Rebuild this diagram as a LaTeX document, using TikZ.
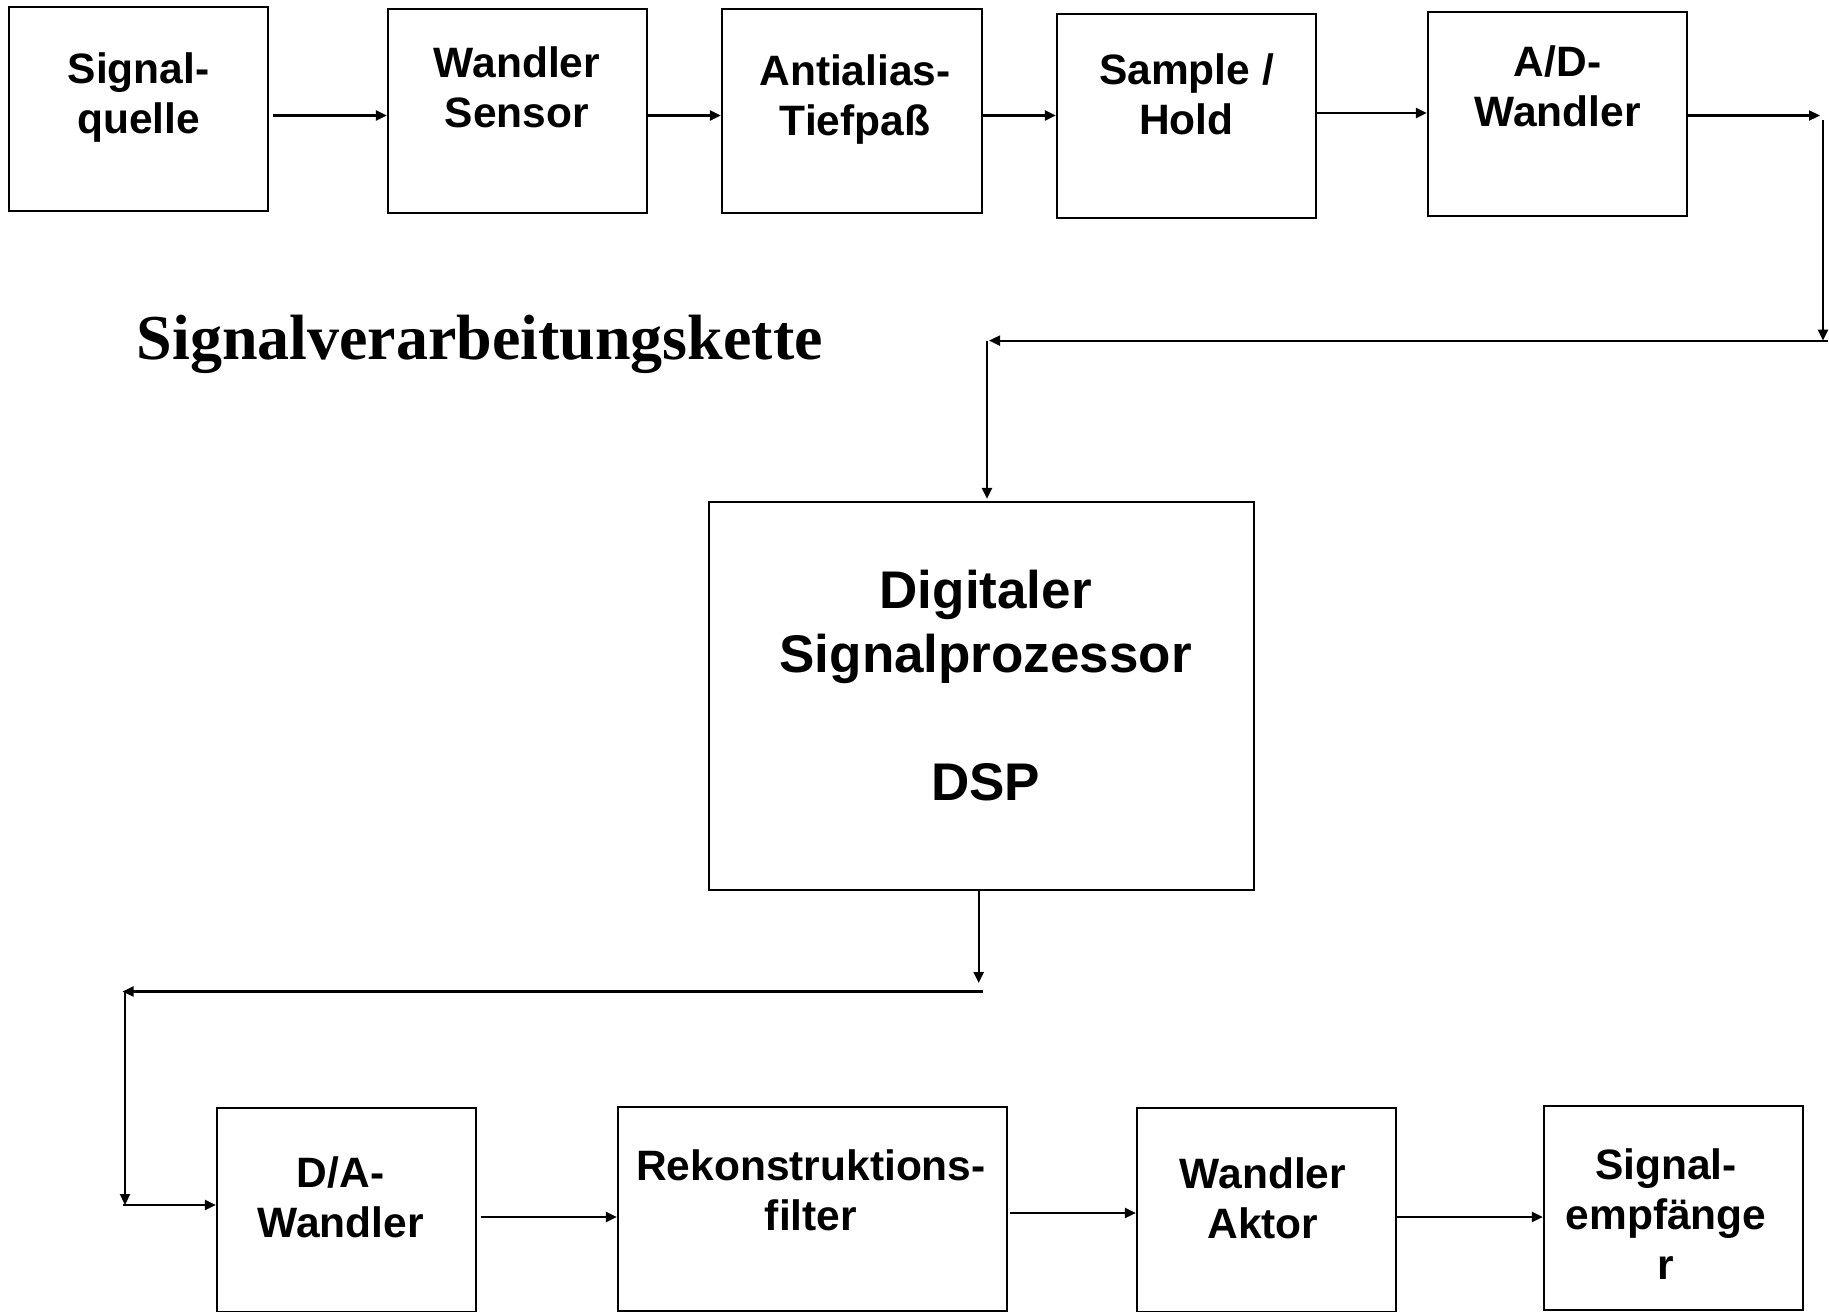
\documentclass[tikz,border=0pt]{standalone}
\usepackage{fontspec}
\setmainfont{Liberation Sans}
\newfontfamily\titlefont{Liberation Serif}
\usetikzlibrary{arrows.meta}
\begin{document}
\begin{tikzpicture}[x=1pt,y=-1pt,
  box/.style={draw, line width=2.2pt, inner sep=0pt, minimum width=259pt, minimum height=204pt},
  lbl/.style={font=\bfseries\fontsize{42.5}{50}\selectfont, align=center, inner sep=0pt},
  conn/.style={line width=2.2pt, -{Triangle[length=11pt,width=10pt]}}]
\useasboundingbox[fill=white] (0,0) rectangle (1829,1312);
% boxes
\node[box] (b1) at (138.5,109) {};
\node[box] (b2) at (517.5,111) {};
\node[box, minimum width=260pt] (b3) at (852,111) {};
\node[box] (b4) at (1186.5,116) {};
\node[box] (b5) at (1557.5,114) {};
\node[box, minimum width=545pt, minimum height=388pt] (dsp) at (981.5,696) {};
\node[box] (da) at (346.5,1210) {};
\node[box, minimum width=389pt] (rek) at (812.5,1209) {};
\node[box] (akt) at (1266.5,1210) {};
\node[box] (emp) at (1673.5,1208) {};
% texts
\node[lbl] (l1) at (138.5,98) {Signal-\\quelle};
\node[lbl] (l2) at (517,87.5) {Wandler\\Sensor};
\node[lbl] (l3) at (855,100) {Antialias-\\Tiefpaß};
\node[lbl] (l4) at (1186.5,94.5) {Sample /\\Hold};
\node[lbl] (l5) at (1557.5,86) {A/D-\\Wandler};
\node[lbl, font=\bfseries\fontsize{53}{64}\selectfont] (l6) at (985.7,685.5) {Digitaler\\Signalprozessor\\[64pt]DSP};
\node[lbl] (l7) at (340.6,1197) {D/A-\\Wandler};
\node[lbl] (l8) at (811,1190) {Rekonstruktions-\\filter};
\node[lbl] (l9) at (1263,1198) {Wandler\\Aktor};
\node[lbl] (l10) at (1666,1214.5) {Signal-\\empfänge\\r};
\node[anchor=base west, inner sep=0pt, font=\titlefont\bfseries\fontsize{64}{70}\selectfont] (title) at (136.5,359) {Signalverarbeitungskette};
% connectors top row
\coordinate (t1) at (273,115.5);
\coordinate (t4) at (0,113);
\draw[conn] (t1) -- (t1 -| b2.west);
\draw[conn] (b2.east |- t1) -- (b3.west |- t1);
\draw[conn] (b3.east |- t1) -- (b4.west |- t1);
\draw[conn] (b4.east |- t4) -- (b5.west |- t4);
\coordinate (r1) at (1820,115.5);
\draw[conn] (b5.east |- t1) -- (r1);
\coordinate (r2) at (1823,120);
\coordinate (r3) at (1823,340.6);
\draw[conn] (r2) -- (r3);
\coordinate (r4) at (1828,340.6);
\coordinate (r5) at (989,340.6);
\draw[conn] (r4) -- (r5);
\coordinate (r6) at (987,340.6);
\draw[conn] (r6) -- ([yshift=2pt]r6 |- dsp.north);
% connectors from DSP
\coordinate (d1) at (978.7,983);
\draw[conn] (d1 |- dsp.south) -- (d1);
\coordinate (d2) at (983,991.5);
\coordinate (d3) at (122.5,991.5);
\draw[conn] (d2) -- (d3);
\coordinate (d4) at (125,991.5);
\coordinate (d5) at (125,1205);
\draw[conn] (d4) -- (d5);
\coordinate (d6) at (122.5,1205);
\draw[conn] (d6) -- (d6 -| da.west);
% bottom row
\coordinate (u1) at (480.6,1217);
\draw[conn] (u1) -- (u1 -| rek.west);
\coordinate (u2) at (1010,1213);
\draw[conn] (u2) -- (u2 -| akt.west);
\coordinate (u3) at (0,1217);
\draw[conn] (akt.east |- u3) -- (emp.west |- u3);
\end{tikzpicture}
\end{document}
